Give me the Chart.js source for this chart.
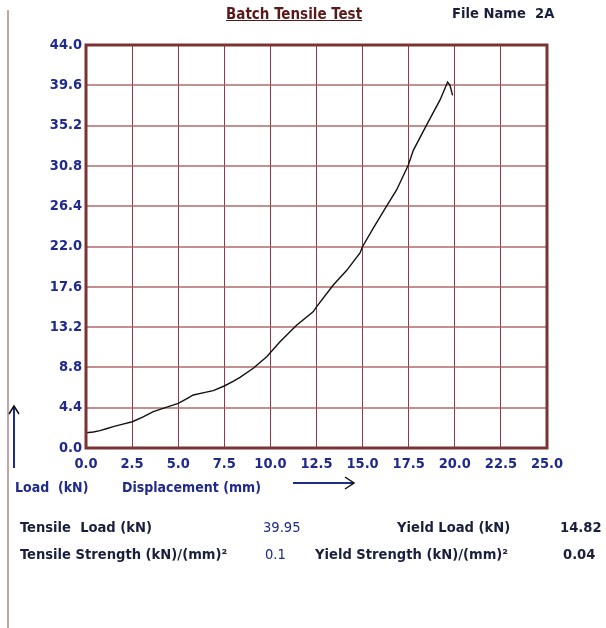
<!DOCTYPE html>
<html>
<head>
<meta charset="utf-8">
<script src="https://cdn.jsdelivr.net/npm/chart.js@4"></script>
<style>
  html, body { margin: 0; padding: 0; background: #fff; }
  #wrap { position: relative; width: 606px; height: 628px; overflow: hidden; }
  #chart { position: absolute; left: 0; top: 0; }
  .t { position: absolute; white-space: nowrap; font-family: "DejaVu Sans Condensed", "DejaVu Sans", sans-serif; font-weight: bold; font-size: 14px; line-height: 1; }
  .b { font-size: 14.6px; }
  .navy { color: #1f2a8c; }
  .dark { color: #1a1f3d; }
  #leftline { position: absolute; left: 7px; top: 10px; width: 2px; height: 620px; background: #c9a3a3; }
  svg { position: absolute; left: 0; top: 0; }
</style>
</head>
<body>
<div id="wrap">
  <div id="leftline"></div>
  <canvas id="chart" width="606" height="628"></canvas>

  <div class="t" style="left:226px; top:7px; font-size:15px; color:#5a1a1a; text-decoration:underline;">Batch Tensile Test</div>
  <div class="t dark" style="left:452px; top:6px; font-size:14.6px;">File Name&nbsp;&nbsp;2A</div>

  <div class="t navy" style="left:15px; top:480px;">Load&nbsp;&nbsp;(kN)</div>
  <div class="t navy" style="left:122px; top:480px;">Displacement (mm)</div>

  <div class="t b dark" style="left:20px; top:520px;">Tensile&nbsp;&nbsp;Load (kN)</div>
  <div class="t b navy" style="left:263px; top:520px; font-weight:normal;">39.95</div>
  <div class="t b dark" style="left:397px; top:520px;">Yield Load (kN)</div>
  <div class="t b dark" style="left:560px; top:520px;">14.82</div>

  <div class="t b dark" style="left:20px; top:547px;">Tensile Strength (kN)/(mm)²</div>
  <div class="t b navy" style="left:265px; top:547px; font-weight:normal;">0.1</div>
  <div class="t b dark" style="left:315px; top:547px;">Yield Strength (kN)/(mm)²</div>
  <div class="t b dark" style="left:563px; top:547px;">0.04</div>

  <svg width="606" height="628">
    <line x1="14" y1="468" x2="14" y2="406" stroke="#1f2a8c" stroke-width="2"/>
    <polyline points="9,414 14,406 19,414" fill="none" stroke="#111" stroke-width="1.5"/>
    <line x1="293" y1="483" x2="354" y2="483" stroke="#1f2a8c" stroke-width="2"/>
    <polyline points="345,477 354,483 345,489" fill="none" stroke="#111" stroke-width="1.5"/>
  </svg>
</div>

<script>
// 変位 (mm) と荷重 (kN) — 画像から読み取り
const displacement = [0, 0.4, 0.76, 1.1, 1.48, 2.0, 2.51, 3.1, 3.65, 4.3, 5.0, 5.4, 5.82, 6.4, 6.9, 7.5, 8.0, 8.35, 9.07, 9.8, 10.52, 11.42, 12.33, 12.5, 13.41, 14.14, 14.86, 15.0, 15.58, 16.3, 16.85, 17.48, 17.75, 18.48, 19.2, 19.61, 19.74, 19.88];
const load = [1.67, 1.75, 1.89, 2.1, 2.33, 2.6, 2.87, 3.4, 3.97, 4.4, 4.88, 5.3, 5.79, 6.05, 6.26, 6.77, 7.3, 7.72, 8.7, 9.97, 11.6, 13.4, 14.9, 15.4, 17.8, 19.4, 21.3, 22.0, 24.0, 26.4, 28.2, 30.9, 32.5, 35.3, 38.0, 39.95, 39.6, 38.5];

const xMin = 0, xMax = 25, xStep = 2.5;
const yMin = 0, yMax = 44, yStep = 4.4;

const points = displacement.map((d, i) => ({ x: d, y: load[i] }));

// 枠線
const frameBorder = {
  id: 'frameBorder',
  afterDraw(chart) {
    const { ctx, chartArea: a } = chart;
    ctx.save();
    ctx.strokeStyle = '#7a3434';
    ctx.lineWidth = 3;
    ctx.strokeRect(a.left, a.top, a.right - a.left, a.bottom - a.top);
    ctx.restore();
  }
};

const tickFont = { family: '"DejaVu Sans Condensed", "DejaVu Sans", sans-serif', size: 14.5, weight: 'bold' };

new Chart(document.getElementById('chart').getContext('2d'), {
  type: 'scatter',
  data: {
    datasets: [{
      data: points,
      showLine: true,
      borderColor: '#111',
      borderWidth: 1.4,
      pointRadius: 0,
      tension: 0
    }]
  },
  options: {
    responsive: false,
    animation: false,
    layout: { padding: { left: 0, top: 45, right: 59, bottom: 150 } },
    plugins: { legend: { display: false }, tooltip: { enabled: false } },
    scales: {
      x: {
        type: 'linear',
        min: xMin,
        max: xMax,
        afterFit(scale) { scale.height = 30; },
        grid: { color: '#8e3a46', lineWidth: 1, drawTicks: false },
        border: { display: false },
        ticks: {
          stepSize: xStep,
          color: '#1f2a8c',
          font: tickFont,
          padding: 8,
          maxRotation: 0,
          autoSkip: false,
          callback: v => Number(v).toFixed(1)
        }
      },
      y: {
        type: 'linear',
        min: yMin,
        max: yMax,
        afterFit(scale) { scale.width = 86; },
        grid: { color: 'rgba(170, 95, 95, 0.7)', lineWidth: 2, drawTicks: false },
        border: { display: false },
        ticks: {
          stepSize: yStep,
          color: '#1f2a8c',
          font: tickFont,
          padding: 4,
          autoSkip: false,
          callback: v => Number(v).toFixed(1)
        }
      }
    }
  },
  plugins: [frameBorder]
});
</script>
</body>
</html>
